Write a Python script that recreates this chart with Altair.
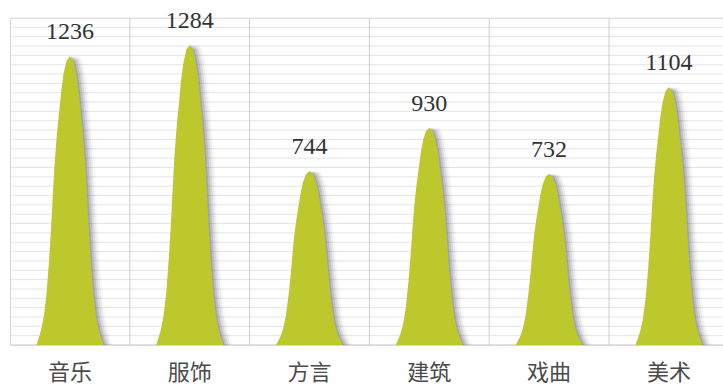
import altair as alt
import pandas as pd

categories = ["音乐", "服饰", "方言", "建筑", "戏曲", "美术"]
values = [1236, 1284, 744, 930, 732, 1104]

# background grid positions (value units / category boundaries)
h_grid = list(range(0, 1401, 40))
v_grid = [0, 1, 2, 3, 4, 5, 6]

# peak-shape template: horizontal fraction of half-width -> fraction of height
shape_t = [0.0, 0.10, 0.19, 0.26, 0.31, 0.38, 0.45, 0.50, 0.55, 0.62, 0.70, 0.78, 0.86, 0.93, 1.0]
shape_h = [1.0, 0.985, 0.94, 0.88, 0.82, 0.74, 0.64, 0.54, 0.43, 0.295, 0.175, 0.098, 0.052, 0.025, 0.0]

STEP = 119.8          # pixels per category
HALF = 33.5 / STEP    # half base width in category units

rows = []
for i, (c, v) in enumerate(zip(categories, values)):
    center = i + 0.5
    pts = [(-t, h) for t, h in zip(shape_t[::-1], shape_h[::-1])] + \
          [(t, h) for t, h in zip(shape_t[1:], shape_h[1:])]
    for t, h in pts:
        rows.append({"cat": c, "px": float(center + t * HALF), "py": float(v * h)})
shape_df = pd.DataFrame(rows)

lab_df = pd.DataFrame({"cat": categories, "v": values,
                       "cx": [i + 0.5 for i in range(len(categories))]})

W, H = 713, 327
xs = alt.Scale(domain=[0, W / STEP], nice=False, zero=False)
ys = alt.Scale(domain=[0, 1400], nice=False)

hg = alt.Chart(pd.DataFrame({"g": h_grid})).mark_rule(color="#e4e4e4", strokeWidth=1).encode(
    y=alt.Y("g:Q", scale=ys, axis=None))
vg = alt.Chart(pd.DataFrame({"b": v_grid})).mark_rule(color="#cfcfcf", strokeWidth=1, clip=True).encode(
    x=alt.X("b:Q", scale=xs, axis=None))
base_line = alt.Chart(pd.DataFrame({"g": [0]})).mark_rule(color="#d0d0d0", strokeWidth=1).encode(
    y=alt.Y("g:Q", scale=ys, axis=None))

layers = [hg, vg, base_line]
for px, op in [(1.5, 0.24), (3.5, 0.19), (5.5, 0.13), (7.5, 0.08), (9.5, 0.04)]:
    layers.append(
        alt.Chart(shape_df).transform_calculate(sx=f"datum.px + {px / STEP}", sy="datum.py * 1.0")
        .mark_area(color="#55556a", opacity=op)
        .encode(x=alt.X("sx:Q", scale=xs, axis=None),
                y=alt.Y("sy:Q", scale=ys, stack=None, axis=None),
                detail="cat:N")
    )

layers.append(alt.Chart(shape_df).mark_area(color="#bcc82c", opacity=1).encode(
    x=alt.X("px:Q", scale=xs, axis=None),
    y=alt.Y("py:Q", scale=ys, stack=None, axis=None),
    detail="cat:N",
))

layers.append(alt.Chart(lab_df).mark_text(font="Liberation Serif", fontSize=24, color="#333333",
                                          baseline="bottom", dy=-12).encode(
    x=alt.X("cx:Q", scale=xs, axis=None), y=alt.Y("v:Q", scale=ys, axis=None), text="v:Q"))

layers.append(alt.Chart(lab_df).mark_text(font="Noto Sans CJK SC", fontSize=22, color="#4a4a4a",
                                          baseline="middle").encode(
    x=alt.X("cx:Q", scale=xs, axis=None), y=alt.value(H + 28), text="cat:N"))

chart = alt.layer(*layers).properties(
    width=W, height=H,
    autosize=alt.AutoSizeParams(type="none"),
    padding={"left": 10, "top": 18, "right": 0, "bottom": 42},
).configure_view(stroke=None).configure(background="white")

chart.save("out.html", embed_options={"renderer": "svg", "actions": False})
